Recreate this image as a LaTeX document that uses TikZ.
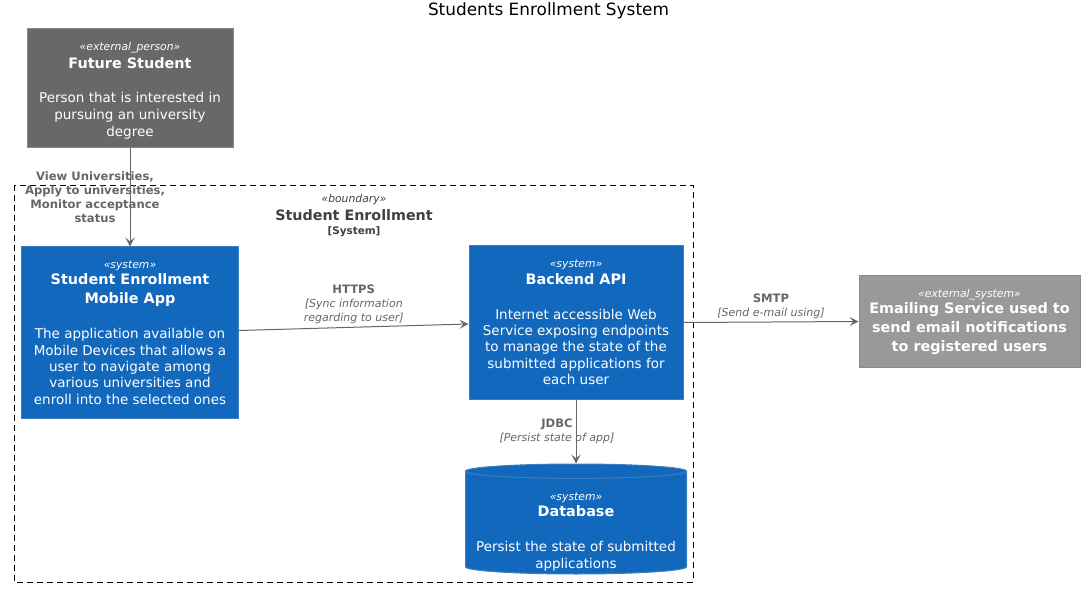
\documentclass[tikz,border=0pt]{standalone}
\usepackage{fontspec}
\setmainfont{DejaVu Sans}
\usepackage{xcolor}
\usepackage{tikz}
\usetikzlibrary{shapes.geometric, arrows.meta, positioning}

\definecolor{personfill}{HTML}{686868}
\definecolor{personline}{HTML}{8A8A8A}
\definecolor{sysfill}{HTML}{1168BD}
\definecolor{sysline}{HTML}{3C7FC0}
\definecolor{extfill}{HTML}{999999}
\definecolor{extline}{HTML}{8A8A8A}
\definecolor{relgray}{HTML}{666666}

\newcommand{\stereo}[1]{{\fontsize{10.8}{13}\selectfont\itshape «#1»}}
\newcommand{\boxtitle}{\fontsize{14.4}{19}\selectfont\bfseries}

\tikzset{
    c4box/.style={draw, rectangle, align=center, inner sep=0pt, text=white, line width=1pt,
        font=\fontsize{13.5}{16.3}\selectfont},
    rel/.style={draw=relgray, line width=1pt, -{Stealth[length=9pt, width=9pt, inset=4pt]}},
    rellabel/.style={text=relgray, align=center, inner sep=1pt, font=\fontsize{11}{14}\selectfont}
}

\begin{document}
\begin{tikzpicture}[x=1pt, y=-1pt]
    \useasboundingbox (0,0) rectangle (1089,593);

    % --- TITLE ---
    \node (title) at (548.5,11) [font=\fontsize{16.9}{20}\selectfont] {Students Enrollment System};

    % --- BOUNDARY ---
    \draw[dashed, line width=0.8pt, dash pattern=on 6pt off 4pt] (14,185) rectangle (693,582);
    \node (bound) at (354,216) [align=center, inner sep=0pt, text=black!75, font=\fontsize{14.3}{16.5}\selectfont]
        {\stereo{boundary}\\[1pt]{\bfseries Student Enrollment}\\[-2pt]{\fontsize{10.4}{12}\selectfont\bfseries [System]}};

    % --- PERSON ---
    \node (student) at (130,88.5) [c4box, fill=personfill, draw=personline, minimum width=206, minimum height=119,
        font=\fontsize{13.5}{17}\selectfont]
        {\rule{0pt}{13pt}\stereo{external\_person}\\[1pt]{\boxtitle Future Student}\\[17pt]
         Person that is interested in\\pursuing an university\\degree};

    % --- SYSTEMS ---
    \node (mobile) [c4box, fill=sysfill, draw=sysline, minimum width=217, minimum height=171, below=98pt of student]
        {\stereo{system}\\{\boxtitle Student Enrollment}\\[2.7pt]{\boxtitle Mobile App}\\[19pt]
         The application available on\\Mobile Devices that allows a\\user to navigate among\\various universities and\\enroll into the selected ones};
    \node (backend) at (576,322.5) [c4box, fill=sysfill, draw=sysline, minimum width=214, minimum height=153]
        {\stereo{system}\\{\boxtitle Backend API}\\[19pt]
         Internet accessible Web\\Service exposing endpoints\\to manage the state of the\\submitted applications for\\each user};
    \node (db) [c4box, cylinder, shape border rotate=90, aspect=0.072, fill=sysfill, draw=sysline,
        minimum width=221, minimum height=110, below=64pt of backend] {\phantom{\rule{200pt}{79pt}}};
    \node (dbtext) at ([yshift=-9pt]db.center) [c4box, draw=none]
        {\stereo{system}\\{\boxtitle Database}\\[19pt]
         Persist the state of submitted\\applications};

    % --- EXTERNAL SYSTEM ---
    \node (mail) at (969.5,321.5) [c4box, fill=extfill, draw=extline, minimum width=221, minimum height=91,
        font=\fontsize{13.5}{19}\selectfont]
        {\stereo{external\_system}\\[-3pt]{\boxtitle Emailing Service used to}\\{\boxtitle send email notifications}\\{\boxtitle to registered users}};

    % Relations
    \draw[rel] (student.south) -- (mobile.north)
        node[rellabel, pos=0.5, xshift=-35pt] {\textbf{\fontsize{11.6}{15.3}\selectfont View Universities,}\\
            \textbf{\fontsize{11.6}{15.3}\selectfont Apply to universities,}\\
            \textbf{\fontsize{11.6}{15.3}\selectfont Monitor acceptance}\\
            \textbf{\fontsize{11.6}{15.3}\selectfont status}};
    \draw[rel] ([yshift=2pt]mobile.east) -- ([yshift=-1.5pt]backend.west)
        node[rellabel, pos=0.5, above=2pt] {\textbf{\fontsize{11.6}{14}\selectfont HTTPS}\\
            \textit{[Sync information}\\\textit{regarding to user]}};
    \draw[rel] (backend.east) -- (mail.west)
        node[rellabel, pos=0.5, above=2pt] {\textbf{\fontsize{11.6}{14}\selectfont SMTP}\\\textit{[Send e-mail using]}};
    \draw[rel] (backend.south) -- (db.north)
        node[rellabel, pos=0.5, xshift=-19pt] {\textbf{\fontsize{11.6}{14}\selectfont JDBC}\\\textit{[Persist state of app]}};

\end{tikzpicture}
\end{document}
